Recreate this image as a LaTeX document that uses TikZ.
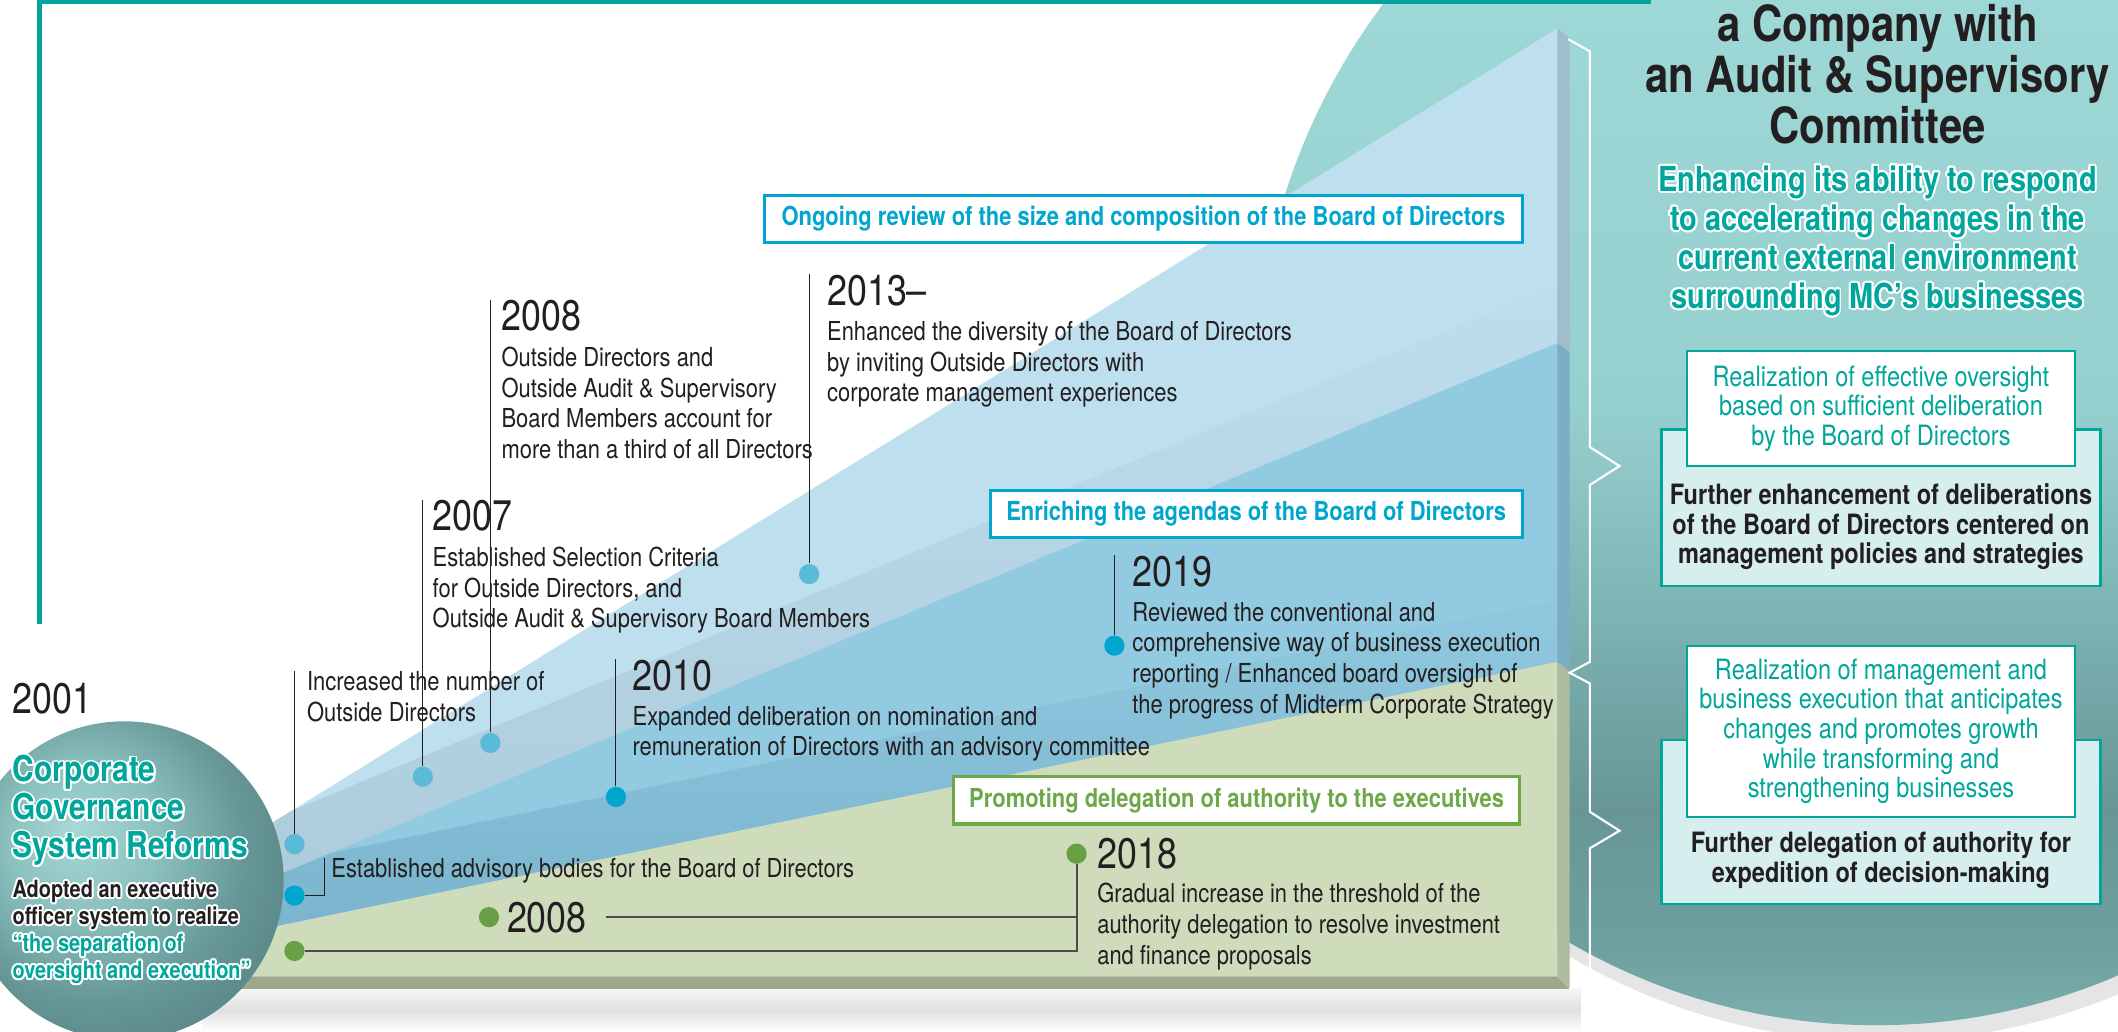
\documentclass[tikz,border=0pt]{standalone}
\usepackage{fontspec}
\setmainfont{TeX Gyre Heros}[FakeStretch=0.84]
\usepackage{contour}
\contourlength{0.8pt}
\usetikzlibrary{positioning}

\definecolor{ink}{RGB}{35,31,32}
\definecolor{mcteal}{RGB}{0,166,156}
\definecolor{mccyan}{RGB}{0,166,206}
\definecolor{mcgreen}{RGB}{106,160,69}
\definecolor{boxgreen}{RGB}{110,168,72}
\definecolor{lightdot}{RGB}{92,186,217}
\definecolor{lightfront}{RGB}{190,223,237}
\definecolor{lightband}{RGB}{172,203,219}
\definecolor{lightside}{RGB}{160,189,203}
\definecolor{medfront}{RGB}{146,203,225}
\definecolor{medband}{RGB}{122,180,205}
\definecolor{medside}{RGB}{122,174,196}
\definecolor{greenfront}{RGB}{207,220,188}
\definecolor{greenside}{RGB}{175,187,158}
\definecolor{greenbottom}{RGB}{156,167,140}
\definecolor{backfill}{RGB}{214,238,238}
\definecolor{panelC}{RGB}{122,176,174}
\definecolor{panelD}{RGB}{110,160,160}
\definecolor{panelE}{RGB}{104,150,150}
\definecolor{panelF}{RGB}{125,180,180}
\definecolor{panelG}{RGB}{150,208,206}
\definecolor{panelH}{RGB}{158,216,214}
\definecolor{ballA}{RGB}{168,217,213}
\definecolor{ballB}{RGB}{138,192,190}
\definecolor{ballC}{RGB}{102,150,150}
\definecolor{ballD}{RGB}{88,132,132}

\pgfdeclareverticalshading{tealpanel}{100bp}{color(0bp)=(panelC); color(25bp)=(panelC); color(28bp)=(panelD); color(33.5bp)=(panelE); color(41.4bp)=(panelF); color(49.4bp)=(panelG); color(65bp)=(panelH); color(100bp)=(panelH)}
\pgfdeclareradialshading{tealball}{\pgfpoint{-8bp}{8bp}}{color(0bp)=(ballA); color(12bp)=(ballB); color(24bp)=(ballC); color(34bp)=(ballD); color(60bp)=(ballD)}

\newcommand{\wtxt}[1]{\contour{white}{#1}}

\begin{document}
\begin{tikzpicture}[x=0.2mm, y=0.2mm,
    desc/.style={font=\fontsize{11}{13}\selectfont, align=left, inner sep=0pt, text=ink},
    yearlbl/.style={font=\fontsize{18}{19}\selectfont, inner sep=0pt, text=ink, anchor=west},
    dot/.style={circle, inner sep=0pt, minimum size=3mm},
    conn/.style={ink, line width=0.4pt},
    grline/.style={black!70, line width=0.8pt},
    tagbox/.style={draw, line width=1.3pt, fill=white, inner sep=0pt, minimum height=7mm, font=\bfseries\fontsize{11}{13}\selectfont},
    aimbox/.style={draw=mcteal, line width=0.9pt, fill=white, minimum width=57.4mm, align=center, text=mcteal, font=\fontsize{11.8}{12.5}\selectfont},
    backbox/.style={draw=mcteal, line width=0.9pt, fill=backfill, minimum width=65mm},
    backtext/.style={align=center, inner sep=0pt, text=ink, font=\bfseries\fontsize{11.8}{12.5}\selectfont}]

    \useasboundingbox (0,0) rectangle (1568,764);
    \clip (0,0) rectangle (1568,764);
    \fill[white] (0,0) rectangle (1568,764);

    % teal panel on the right
    \fill[black!10] (1393,463) ellipse [x radius=462, y radius=470];
    \shade[shading=tealpanel] (1389,475) ellipse [x radius=460, y radius=470];

    % frame
    \draw[mcteal, line width=2pt] (29,302) -- (29,763) -- (1222,763);

    % the rising block
    \shade[top color=black!4, bottom color=white, middle color=black!12] (150,0) rectangle (1170,32);
    \fill[lightfront] (150,123) -- (1153,743) -- (1153,41) -- (150,41) -- cycle;
    \begin{scope}
        \clip (150,123) -- (1153,743) -- (1153,41) -- (150,41) -- cycle;
        \shade[shift={(150,93)}, rotate=22.57, bottom color=lightband, top color=lightfront] (0,0) rectangle (1200,40);
    \end{scope}
    \fill[medfront] (150,93) -- (1153,510) -- (1153,41) -- (150,41) -- cycle;
    \begin{scope}
        \clip (150,93) -- (1153,510) -- (1153,41) -- (150,41) -- cycle;
        \shade[shift={(150,67)}, rotate=11.66, bottom color=medband, top color=medfront] (0,0) rectangle (1200,45);
    \end{scope}
    \fill[greenfront] (150,67) -- (1153,274) -- (1153,41) -- (150,41) -- cycle;
    \fill[greenbottom] (150,41) -- (1153,41) -- (1162,32) -- (150,32) -- cycle;
    \fill[lightside] (1153,743) -- (1162,736) -- (1162,503) -- (1153,510) -- cycle;
    \fill[medside] (1153,510) -- (1162,503) -- (1162,267) -- (1153,274) -- cycle;
    \fill[greenside] (1153,274) -- (1162,267) -- (1162,32) -- (1153,41) -- cycle;

    % brace
    \draw[white, line width=0.9pt] (1161,735) -- (1177,726) -- (1177,433) -- (1199,419) -- (1177,405)
        -- (1177,274) -- (1162,266) -- (1177,258) -- (1177,163) -- (1199,149) -- (1177,136)
        -- (1177,40) -- (1162,32);

    % sphere
    \shade[shading=tealball] (92,112) circle [radius=118];

    % dots
    \node[dot, fill=lightdot] (DotOutside) at (218,139) {};
    \node[dot, fill=mccyan] (DotAdvisory) at (218,101) {};
    \node[dot, fill=mcgreen] (DotSeparation) at (218,60) {};
    \node[dot, fill=lightdot] (Dot2007) at (313,189) {};
    \node[dot, fill=lightdot] (Dot2008) at (363,214) {};
    \node[dot, fill=lightdot] (Dot2013) at (599,339) {};
    \node[dot, fill=mccyan] (Dot2010) at (456,174) {};
    \node[dot, fill=mccyan] (Dot2019) at (825,286) {};
    \node[dot, fill=mcgreen] (DotDeleg2008) at (362,85) {};
    \node[dot, fill=mcgreen] (Dot2018) at (797,132) {};

    % years
    \node[yearlbl] (Year2001) at (9,247) {2001};
    \node[yearlbl] (Year2007) at (320,382) {2007};
    \node[yearlbl] (Year2008) at (371,530) {2008};
    \node[yearlbl] (Year2013) at (612,549) {2013\textendash};
    \node[yearlbl] (Year2010) at (468,264) {2010};
    \node[yearlbl] (Year2019) at (838,341) {2019};
    \node[yearlbl] (Year2018) at (812,132) {2018};
    \node[yearlbl] (YearDeleg2008) at (375,85) {2008};

    % descriptions
    \node[desc, anchor=north west] (TextOutside) at (227,267) {Increased the number of\\Outside Directors};
    \node[desc, anchor=west] (TextAdvisory) at (245,119) {Established advisory bodies for the Board of Directors};
    \node[desc, below right=6pt and 0pt of Year2007.south west] (Text2007) {Established Selection Criteria\\for Outside Directors, and\\Outside Audit \& Supervisory Board Members};
    \node[desc, below right=6pt and 0pt of Year2008.south west] (Text2008) {Outside Directors and\\Outside Audit \& Supervisory\\Board Members account for\\more than a third of all Directors};
    \node[desc, below right=6pt and 0pt of Year2013.south west] (Text2013) {Enhanced the diversity of the Board of Directors\\by inviting Outside Directors with\\corporate management experiences};
    \node[desc, below right=6pt and 0pt of Year2010.south west] (Text2010) {Expanded deliberation on nomination and\\remuneration of Directors with an advisory committee};
    \node[desc, below right=6pt and 0pt of Year2019.south west] (Text2019) {Reviewed the conventional and\\comprehensive way of business execution\\reporting / Enhanced board oversight of\\the progress of Midterm Corporate Strategy};
    \node[desc, below right=5.5pt and 0pt of Year2018.south west] (Text2018) {Gradual increase in the threshold of the\\authority delegation to resolve investment\\and finance proposals};

    % connectors
    \draw[conn] (DotOutside) -- (DotOutside |- TextOutside.north);
    \draw[conn] (Dot2007) -- (Dot2007 |- Year2007.north);
    \draw[conn] (Dot2008) -- (Dot2008 |- Year2008.north);
    \draw[conn] (Dot2013) -- (Dot2013 |- Year2013.north);
    \draw[conn] (Dot2010) -- (Dot2010 |- Year2010.north);
    \draw[conn] (Dot2019) -- (Dot2019 |- Year2019.north);
    \draw[conn] (DotAdvisory) -| ([xshift=-2.8pt]TextAdvisory.north west);
    \draw[grline] (DotSeparation) -| (Dot2018);
    \draw[grline] ([xshift=8pt]YearDeleg2008.east) -- (YearDeleg2008.east -| Dot2018);

    % tags on the block
    \node[tagbox, draw=mccyan, text=mccyan, minimum width=112.2mm] (TagReview) at (846.5,602) {Ongoing review of the size and composition of the Board of Directors};
    \node[tagbox, draw=mccyan, text=mccyan, minimum width=78.8mm] (TagAgenda) at (930,383.5) {Enriching the agendas of the Board of Directors};
    \node[tagbox, draw=boxgreen, text=boxgreen, minimum width=83.8mm] (TagDeleg) at (915.5,171.5) {Promoting delegation of authority to the executives};

    % sphere text
    \node[anchor=north west, align=left, inner sep=0pt, text=mcteal, font=\bfseries\fontsize{15}{16}\selectfont] (Reforms) at (9,205) {\wtxt{Corporate}\\\wtxt{Governance}\\\wtxt{System Reforms}};
    \node[anchor=north west, align=left, inner sep=0pt, text=ink, font=\bfseries\fontsize{10}{11.4}\selectfont] (Officer) at (9,113) {\wtxt{Adopted an executive}\\\wtxt{officer system to realize}\\\textcolor{mcteal}{\wtxt{“the separation of}}\\\textcolor{mcteal}{\wtxt{oversight and execution”}}};

    % right panel
    \node[align=center, inner sep=0pt, text=ink, font=\bfseries\fontsize{21}{21.5}\selectfont] (Title) at (1390,709) {a Company with\\an Audit \& Supervisory\\Committee};
    \node[align=center, inner sep=0pt, text=mcteal, font=\bfseries\fontsize{14.5}{16.5}\selectfont] (Aim) at (1390,585) {\wtxt{Enhancing its ability to respond}\\\wtxt{to accelerating changes in the}\\\wtxt{current external environment}\\\wtxt{surrounding MC’s businesses}};

    \node[backbox, minimum height=23.2mm] (BackOversight) at (1392.5,388) {};
    \node[aimbox, minimum height=17mm] (Oversight) at (1392.5,461.5) {Realization of effective oversight\\based on sufficient deliberation\\by the Board of Directors};
    \node[backtext] (Deliberation) at (1392.5,374) {Further enhancement of deliberations\\of the Board of Directors centered on\\management policies and strategies};
    \node[backbox, minimum height=24.2mm] (BackGrowth) at (1392.5,155.5) {};
    \node[aimbox, minimum height=25.4mm] (Growth) at (1392.5,222.5) {Realization of management and\\business execution that anticipates\\changes and promotes growth\\while transforming and\\strengthening businesses};
    \node[backtext] (Delegation) at (1392.5,127) {Further delegation of authority for\\expedition of decision-making};
\end{tikzpicture}
\end{document}
